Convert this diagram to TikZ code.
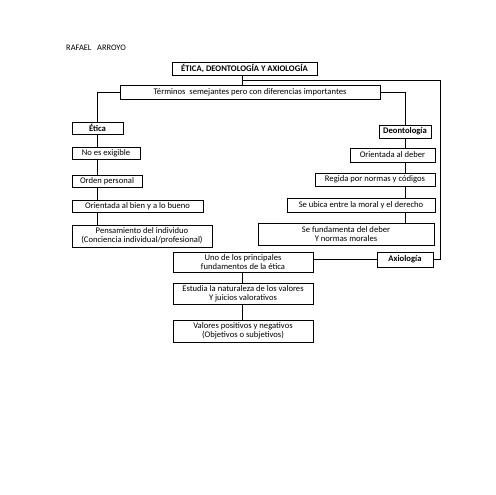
\documentclass[tikz,border=0pt]{standalone}
\usepackage{fontspec}
\setmainfont{Carlito}
\begin{document}
\begin{tikzpicture}[x=1pt,y=-1pt,
  bx/.style={draw=black, line width=0.6pt, inner sep=0.5pt, align=center, font=\fontsize{8.6}{9.4}\selectfont, text=black},
  ln/.style={draw=black, line width=0.6pt}]
\useasboundingbox (0,0) rectangle (495,495);
\fill[white] (0,0) rectangle (495,495);
\newcommand{\bxat}[6]{% name, x1,y1,x2,y2, text
  \node[bx, minimum width={#4-#2}, minimum height={#5-#3}] (#1) at ({(#2+#4)/2},{(#3+#5)/2}) {#6};}
\node[font=\fontsize{8.4}{9}\selectfont, anchor=west, text=black, inner sep=0pt] (author) at (66,48) {RAFAEL\ \ \ ARROYO};
\bxat{title}{172}{62}{317}{75}{\textbf{ÉTICA, DEONTOLOGÍA Y AXIOLOGÍA}}
\bxat{term}{120}{85}{380}{99}{Términos\ \ semejantes pero con diferencias importantes}
% left column
\bxat{etica}{72}{122}{123}{134}{\textbf{Ética}}
\bxat{noes}{72}{147}{140}{159}{No es exigible}
\bxat{orden}{72}{175}{142}{187}{Orden personal}
\bxat{orient}{72}{200}{203}{212}{Orientada al bien y a lo bueno}
\bxat{pens}{72}{225}{212}{247}{Pensamiento del individuo\\(Conciencia individual/profesional)}
% right column
\bxat{deon}{379}{125}{431}{138}{\textbf{Deontología}}
\bxat{deber}{350}{148}{435}{162}{Orientada al deber}
\bxat{regida}{315}{173}{435}{186}{Regida por normas y códigos}
\bxat{ubica}{287}{198}{435}{212}{Se ubica entre la moral y el derecho}
\bxat{funda}{258}{223}{434}{245}{Se fundamenta del deber\\Y normas morales}
% axiologia
\bxat{axio}{377}{252}{433}{267}{\textbf{Axiología}}
\bxat{uno}{173}{252}{313}{272}{Uno de los principales\\fundamentos de la ética}
\bxat{estudia}{173}{283}{313}{304}{Estudia la naturaleza de los valores\\Y juicios valorativos}
\bxat{valores}{173}{320}{313}{342}{Valores positivos y negativos\\(Objetivos o subjetivos)}
% connectors
\coordinate (br) at (242,80);
\coordinate (jr) at (440,80);
\coordinate (lx) at (97.5,0);
\coordinate (rx) at (405,0);
\draw[ln] (br |- title.south) -- (br |- term.north);
\draw[ln] (br) -- (jr) |- (axio.east);
\draw[ln] (term.west) -| (etica.north);
\draw[ln] (term.east) -| (deon.north);
\draw[ln] (etica.south) -- (lx |- noes.north);
\draw[ln] (lx |- noes.south) -- (lx |- orden.north);
\draw[ln] (lx |- orden.south) -- (lx |- orient.north);
\draw[ln] (lx |- orient.south) -- (lx |- pens.north);
\draw[ln] (deon.south) -- (rx |- deber.north);
\draw[ln] (rx |- deber.south) -- (rx |- regida.north);
\draw[ln] (rx |- regida.south) -- (rx |- ubica.north);
\draw[ln] (rx |- ubica.south) -- (rx |- funda.north);
\draw[ln] (axio.west) -- (axio.west -| uno.east);
\draw[ln] (br |- uno.south) -- (br |- estudia.north);
\draw[ln] (br |- estudia.south) -- (br |- valores.north);
\end{tikzpicture}
\end{document}
